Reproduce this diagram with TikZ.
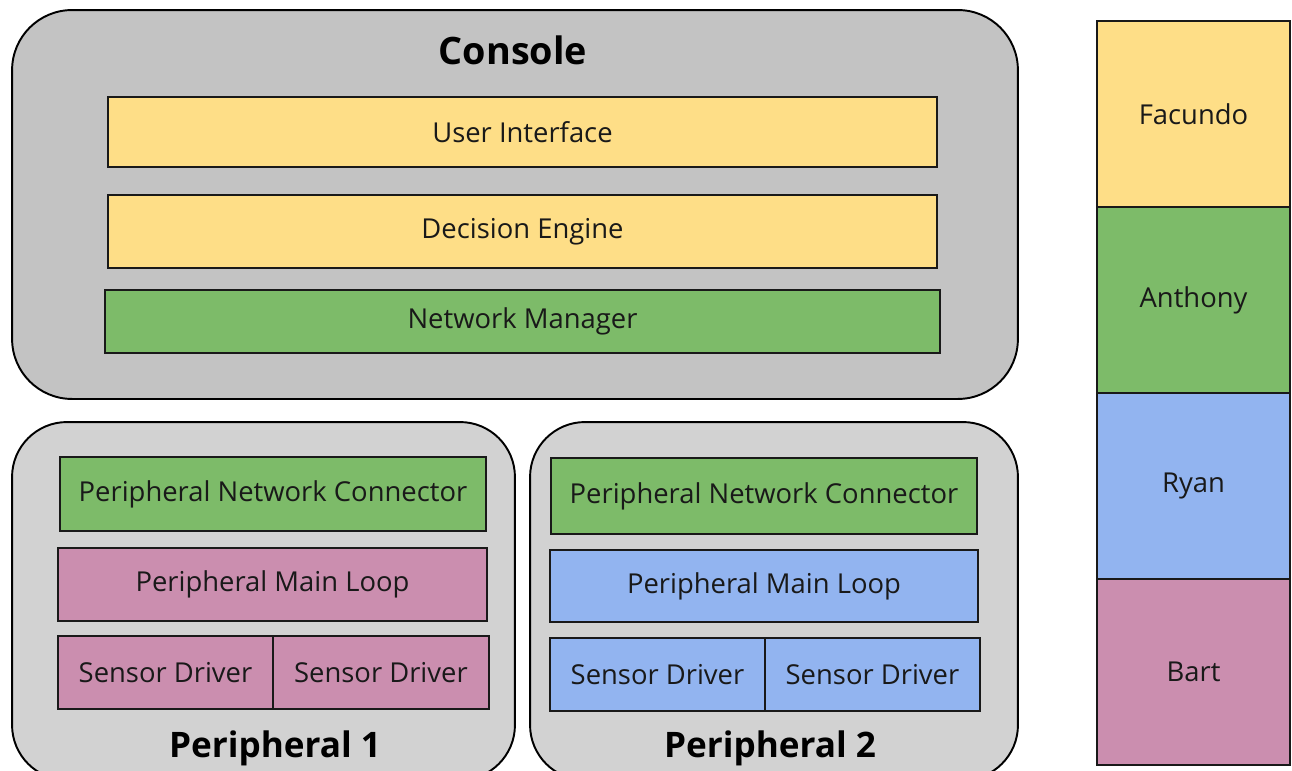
\documentclass[tikz,border=0pt]{standalone}
\usepackage{fontspec}
\setmainfont{Open Sans}
\usetikzlibrary{positioning}

\definecolor{uiyellow}{HTML}{FEDE87}
\definecolor{netgreen}{HTML}{7DBB69}
\definecolor{periblue}{HTML}{92B4F0}
\definecolor{loopink}{HTML}{CB8EAF}
\definecolor{consgray}{HTML}{C3C3C3}
\definecolor{perigray}{HTML}{D2D2D2}

\tikzset{
  layer/.style={draw=black!90, line width=1.1pt, inner sep=0pt, outer sep=0pt,
    font=\fontsize{15.6}{18}\selectfont, text=black!90},
  shell/.style={draw=black, line width=1.1pt, inner sep=0pt, outer sep=0pt},
  title/.style={font=\fontsize{20}{24}\selectfont\bfseries, text=black},
  owner/.style={layer, minimum width=3.86cm, minimum height=3.72cm}
}

\begin{document}
\begin{tikzpicture}[x=0.02cm, y=-0.02cm]
  \useasboundingbox (0,0) rectangle (1292,771);

  % console
  \node[shell, fill=consgray, rounded corners=1.2cm, minimum width=20.12cm, minimum height=7.78cm] (console) at (515,204.5) {};
  \node[title, font=\fontsize{21.5}{25}\selectfont\bfseries] (consoletitle) at (513,50) {Console};
  \node[layer, fill=uiyellow, minimum width=16.58cm, minimum height=1.40cm] (ui) at (522.5,132) {User Interface};
  \node[layer, fill=uiyellow, minimum width=16.58cm, minimum height=1.46cm] (engine) at (522.5,231.5) {Decision Engine};
  \node[layer, fill=netgreen, minimum width=16.70cm, minimum height=1.26cm] (netman) at (522.5,321.5) {Network Manager};

  % peripheral 1
  \node[shell, fill=perigray, rounded corners=1.1cm, minimum width=10.06cm, minimum height=7.16cm] (peri1) at (263.5,601) {};
  \node[layer, fill=netgreen, minimum width=8.52cm, minimum height=1.48cm] (conn1) at (273,494) {Peripheral Network Connector};
  \node[layer, fill=loopink, minimum width=8.58cm, minimum height=1.46cm] (loop1) at (272.5,584.5) {Peripheral Main Loop};
  \node[layer, fill=loopink, minimum width=4.30cm, minimum height=1.46cm] (sensA1) at (165.5,672.5) {Sensor Driver};
  \node[layer, fill=loopink, minimum width=4.32cm, minimum height=1.46cm, right=0pt of sensA1] (sensB1) {Sensor Driver};
  \node[title] (peri1title) at (275,748) {Peripheral 1};

  % peripheral 2
  \node[shell, fill=perigray, rounded corners=1.1cm, minimum width=9.76cm, minimum height=7.16cm] (peri2) at (774,601) {};
  \node[layer, fill=netgreen, minimum width=8.52cm, minimum height=1.52cm] (conn2) at (764,496) {Peripheral Network Connector};
  \node[layer, fill=periblue, minimum width=8.56cm, minimum height=1.44cm] (loop2) at (764,586) {Peripheral Main Loop};
  \node[layer, fill=periblue, minimum width=4.30cm, minimum height=1.46cm] (sensA2) at (657.5,674.5) {Sensor Driver};
  \node[layer, fill=periblue, minimum width=4.30cm, minimum height=1.46cm, right=0pt of sensA2] (sensB2) {Sensor Driver};
  \node[title] (peri2title) at (770,748) {Peripheral 2};

  % legend
  \node[owner, fill=uiyellow] (facundo) at (1193.5,114) {Facundo};
  \node[owner, fill=netgreen, below=0pt of facundo] (anthony) {Anthony};
  \node[owner, fill=periblue, below=0pt of anthony] (ryan) {Ryan};
  \node[owner, fill=loopink, below=0pt of ryan] (bart) {Bart};
\end{tikzpicture}
\end{document}
